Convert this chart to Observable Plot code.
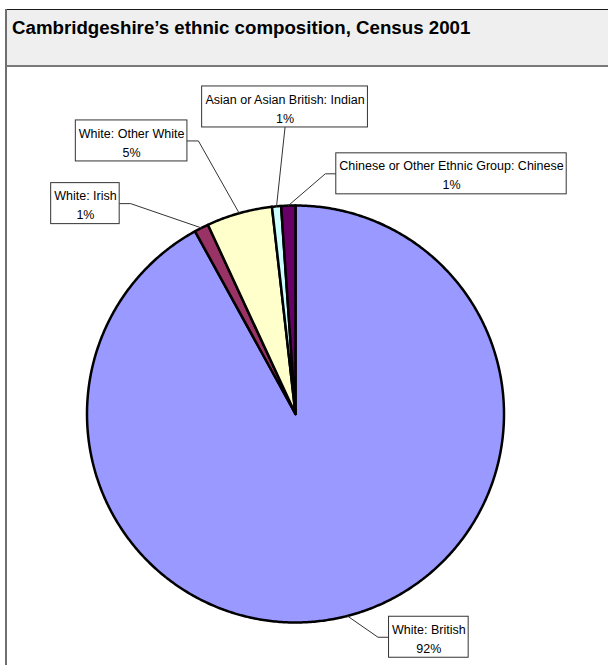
<!DOCTYPE html>
<html>
<head>
<meta charset="utf-8">
<script src="https://cdn.jsdelivr.net/npm/d3@7"></script>
<script src="https://cdn.jsdelivr.net/npm/@observablehq/plot@0.6"></script>
<style>
  html, body { margin: 0; padding: 0; background: #fff; width: 608px; height: 665px; overflow: hidden; }
  #frame { margin: 9px 0 0 5px; border-left: 2px solid #6f6f6f; width: 640px; }
  #title {
    height: 46px; padding: 9px 0 0 5px;
    background: #efefef;
    border-top: 1px solid #1a1a1a; border-bottom: 2px solid #7a7a7a;
    font: bold 18.7px/18.7px "Liberation Sans", Arial, sans-serif; color: #000;
  }
  #chart svg { display: block; }
</style>
</head>
<body>
<div id="frame">
  <div id="title">Cambridgeshire’s ethnic composition, Census 2001</div>
  <div id="chart"></div>
</div>
<script>
// Ethnic groups, in drawing order (clockwise from 12 o'clock)
const groups = [
  "White: British",
  "White: Irish",
  "White: Other White",
  "Asian or Asian British: Indian",
  "Chinese or Other Ethnic Group: Chinese"
];
// Share of population, %
const shares = [92.0, 1.1, 5.1, 0.7, 1.1];
const sliceColors = ["#9999ff", "#993366", "#ffffcc", "#ccffff", "#660066"];

// Label placement: box-centre offset in px from the rim point at the slice's mid-angle,
// and which edge of the box the leader line joins.
const labelLayout = [
  {dx: 81.5, dy: 21.3, side: "left"},
  {dx: -116, dy: -24.3, side: "right"},
  {dx: -107.6, dy: -72.3, side: "right"},
  {dx: 8.5, dy: -99.4, side: "bottom"},
  {dx: 163.2, dy: -31.8, side: "left"}
];

// ---- geometry of the drawing area ----
const W = 601, H = 598;        // svg size
const CX = 288, CY = 346.5;    // pie centre in px
const R = 208.5;               // pie radius in px (= one data unit)
const FONT = '"Liberation Sans", Arial, sans-serif';
const FS = 12.5;

const rows = groups.map((g, i) => ({group: g, share: shares[i]}));
const arcs = d3.pie().sort(null).value(d => d.share)(rows);

// Slice outlines as closed polygons on the unit circle (y up, angle clockwise from top)
const slicePts = [];
for (const a of arcs) {
  const g = a.data.group;
  slicePts.push({group: g, x: 0, y: 0});
  const n = Math.max(2, Math.ceil((a.endAngle - a.startAngle) / (Math.PI / 360)));
  for (let k = 0; k <= n; k++) {
    const t = a.startAngle + (a.endAngle - a.startAngle) * k / n;
    slicePts.push({group: g, x: Math.sin(t), y: Math.cos(t)});
  }
  slicePts.push({group: g, x: 0, y: 0});
}

// Label boxes and leader lines
const ctx = document.createElement("canvas").getContext("2d");
ctx.font = `${FS}px ${FONT}`;
const boxes = [], leaders = [];
arcs.forEach((a, i) => {
  const g = a.data.group;
  const lay = labelLayout[i];
  const mid = (a.startAngle + a.endAngle) / 2;
  const ax = Math.sin(mid), ay = Math.cos(mid);
  const pct = Math.round(a.data.share) + "%";
  const tw = Math.max(ctx.measureText(g).width, ctx.measureText(pct).width);
  const bw = (tw + 6) / R, bh = 41 / R;
  const cx = ax + lay.dx / R, cy = ay - lay.dy / R;
  const box = {group: g, label: g + "\n" + pct, cx, cy,
    x1: cx - bw / 2, x2: cx + bw / 2, y1: cy - bh / 2, y2: cy + bh / 2};
  boxes.push(box);
  leaders.push({group: g, x: ax, y: ay});
  const elbow = 11 / R;
  if (lay.side === "left") {
    leaders.push({group: g, x: box.x1 - elbow, y: cy});
    leaders.push({group: g, x: box.x1, y: cy});
  } else if (lay.side === "right") {
    leaders.push({group: g, x: box.x2 + elbow, y: cy});
    leaders.push({group: g, x: box.x2, y: cy});
  } else {
    leaders.push({group: g, x: cx, y: box.y1});
  }
});

const chart = Plot.plot({
  width: W, height: H,
  marginTop: 0, marginRight: 0, marginBottom: 0, marginLeft: 0,
  style: {fontFamily: FONT, background: "#fff"},
  x: {domain: [-CX / R, (W - CX) / R], axis: null},
  y: {domain: [-(H - CY) / R, CY / R], axis: null},
  color: {type: "ordinal", domain: groups, range: sliceColors},
  marks: [
    Plot.line(slicePts, {x: "x", y: "y", z: "group", fill: "group", stroke: "#000", strokeWidth: 2.5, curve: "linear"}),
    Plot.line(leaders, {x: "x", y: "y", z: "group", stroke: "#333", strokeWidth: 1, curve: "linear"}),
    Plot.rect(boxes, {x1: "x1", x2: "x2", y1: "y1", y2: "y2", fill: "#fff", stroke: "#333", strokeWidth: 1}),
    Plot.text(boxes, {x: "cx", y: "cy", text: "label", fontSize: FS, lineHeight: 1.52, fill: "#000", fontFamily: FONT})
  ]
});
document.getElementById("chart").append(chart);
</script>
</body>
</html>
